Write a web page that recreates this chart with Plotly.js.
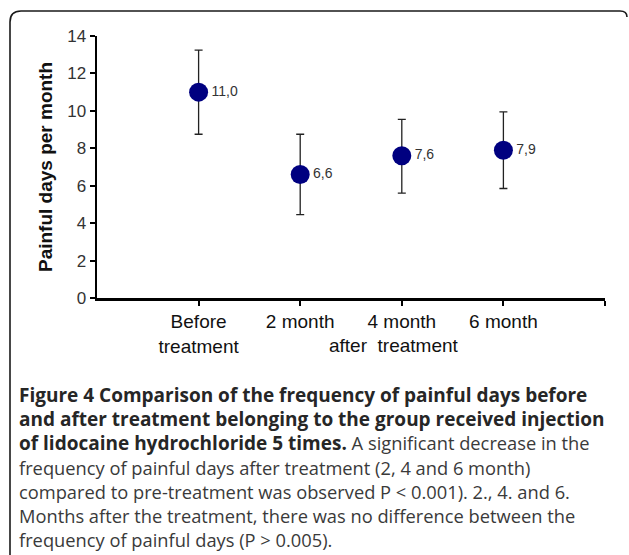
<!DOCTYPE html>
<html>
<head>
<meta charset="utf-8">
<script src="https://cdn.plot.ly/plotly-3.0.1.min.js"></script>
<style>
  html, body { margin: 0; padding: 0; background: #fff; }
  #chart { width: 629px; height: 555px; }
</style>
</head>
<body>
<div id="chart"></div>
<script>
// ---- data ----
const categories = [1, 2, 3, 4];
const tickLabels = ['Before<br>treatment', '2 month', '4 month', '6 month'];
const means = [11.0, 6.6, 7.6, 7.9];
const errPlus = [2.25, 2.15, 1.95, 2.05];
const errMinus = [2.25, 2.15, 2.0, 2.05];
const valueLabels = ['11,0', '6,6', '7,6', '7,9'];
const groupLabel = 'after  treatment';
const B = s => '<span style="font-weight:bold;font-size:19px;fill:#262626">' + s + '</span>';
const captionLines = [
  B('Figure 4 Comparison of the frequency of painful days before'),
  B('and after treatment belonging to the group received injection'),
  B('of lidocaine hydrochloride 5 times.') + ' A significant decrease in the',
  'frequency of painful days after treatment (2, 4 and 6 month)',
  'compared to pre-treatment was observed P < 0.001). 2., 4. and 6.',
  'Months after the treatment, there was no difference between the',
  'frequency of painful days (P > 0.005).'
];

// ---- layout geometry ----
const W = 629, H = 555;
const M = { l: 97, r: 24, t: 36, b: 257 };
const PW = W - M.l - M.r, PH = H - M.t - M.b;
const px2x = X => (X - M.l) / PW;
const px2y = Y => (H - M.b - Y) / PH;

const trace = {
  type: 'scatter',
  mode: 'markers+text',
  x: categories,
  y: means,
  text: valueLabels,
  textposition: 'middle right',
  textfont: { family: 'Liberation Sans, Arial, sans-serif', size: 14, color: '#333' },
  marker: { size: 19, color: '#000080' },
  error_y: {
    type: 'data', symmetric: false,
    array: errPlus, arrayminus: errMinus,
    color: '#222', thickness: 1.3, width: 4
  },
  cliponaxis: false,
  hoverinfo: 'skip'
};

const annotations = [{
  xref: 'x', yref: 'paper', x: 2.92, y: px2y(345),
  text: groupLabel, showarrow: false, xanchor: 'center', yanchor: 'middle',
  font: { family: 'Liberation Sans, Arial, sans-serif', size: 19, color: '#111' }
}];
captionLines.forEach((t, i) => {
  annotations.push({
    xref: 'paper', yref: 'paper', x: px2x(17), y: px2y(395 + i * 24),
    text: t, showarrow: false, xanchor: 'left', yanchor: 'middle', align: 'left',
    font: { family: 'Open Sans, sans-serif', size: 18.3, color: '#3a3a3a' }
  });
});

const shapes = [{
  type: 'path', xref: 'paper', yref: 'paper',
  path: `M ${px2x(10)} ${px2y(560)} L ${px2x(10)} ${px2y(22)} Q ${px2x(10)} ${px2y(11)} ${px2x(21)} ${px2y(11)} L ${px2x(620)} ${px2y(11)} Q ${px2x(627)} ${px2y(11)} ${px2x(627)} ${px2y(17)}`,
  line: { color: '#1a1a1a', width: 1.6 }
}];

const layout = {
  width: W, height: H,
  margin: M,
  paper_bgcolor: '#fff', plot_bgcolor: '#fff',
  showlegend: false,
  font: { family: 'Liberation Sans, Arial, sans-serif', color: '#111' },
  xaxis: {
    range: [0, 5],
    tickmode: 'array', tickvals: [1, 2, 3, 4, 5], ticktext: tickLabels.concat(['']),
    ticks: 'outside', ticklen: 5, tickwidth: 2, tickcolor: '#000',
    showline: true, linewidth: 2.5, linecolor: '#000',
    showgrid: false, zeroline: false,
    tickfont: { size: 19, color: '#111' }
  },
  yaxis: {
    range: [0, 14], dtick: 2,
    ticks: 'outside', ticklen: 5, tickwidth: 2, tickcolor: '#000',
    showline: true, linewidth: 2.5, linecolor: '#000',
    showgrid: false, zeroline: false,
    tickfont: { size: 17, color: '#333' },
    title: { text: '<b>Painful days per month</b>', font: { size: 19, color: '#111' }, standoff: 10 }
  },
  annotations: annotations,
  shapes: shapes
};

Plotly.newPlot('chart', [trace], layout, { displayModeBar: false, staticPlot: true });
</script>
</body>
</html>
